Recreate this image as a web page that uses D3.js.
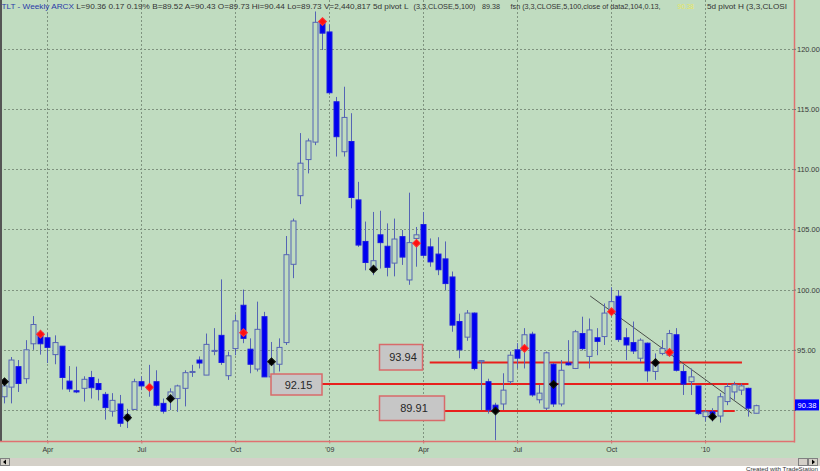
<!DOCTYPE html>
<html><head><meta charset="utf-8">
<script src="https://cdn.jsdelivr.net/npm/d3@7"></script>
<style>html,body{margin:0;padding:0;background:#fff;}svg{display:block;font-family:"Liberation Sans",Arial,sans-serif;}</style>
</head><body><svg id="c" width="820" height="471"></svg>
<script>
// ---------- DATA (TLT weekly, Feb 2008 - Feb 2010) ----------
const firstWeek = new Date(2008, 1, 22);   // first weekly bar (Friday)
const opens  = [91.1,91.9,93.6,92.6,95.5,96.4,96.0,94.6,95.3,92.4,91.6,91.8,92.7,92.2,91.3,89.9,90.5,89.2,90.05,92.35,
  91.75,92.35,90.55,91.0,90.95,91.8,93.15,94.15,92.9,94.9,96.2,92.85,95.1,98.7,95.05,93.4,97.75,92.75,93.8,95.6,
  102.1,107.8,110.8,112.25,122.25,121.4,115.6,111.45,112.3,107.45,104.0,101.85,104.55,103.6,102.2,104.4,100.8,104.25,105.4,103.55,
  102.95,102.55,101.05,97.35,96.05,98.05,94.0,92.35,90.4,90.5,92.35,95.0,95.0,96.3,90.85,90.15,93.8,90.5,93.9,93.45,
  96.35,94.45,96.0,96.1,98.3,99.45,96.0,95.6,94.3,95.55,93.2,94.7,94.55,96.25,93.2,92.35,92.0,89.45,89.85,89.5,
  90.7,91.5,91.65,91.8,89.73];
const highs  = [92.6,94.4,94.15,95.8,97.8,96.6,96.4,96.2,95.3,93.65,93.6,92.8,93.25,92.6,91.5,91.4,91.25,90.1,92.6,92.8,
  93.75,93.3,90.95,91.8,92.1,93.3,93.75,94.45,96.35,96.8,100.85,94.85,97.95,100.0,95.95,99.0,98.15,95.65,95.95,104.45,
  105.9,113.0,112.55,123.1,122.4,122.0,116.0,116.85,114.65,108.95,105.65,106.45,106.55,105.5,105.9,104.95,108.05,105.2,106.45,104.25,
  104.35,104.0,101.5,98.0,98.3,98.1,94.15,92.6,90.6,93.05,94.85,95.55,96.8,96.5,92.1,94.85,93.9,94.15,95.8,96.65,
  97.75,97.6,96.8,98.85,100.2,99.95,96.8,97.35,95.95,95.6,94.7,95.8,96.65,96.8,93.75,93.45,92.0,90.0,90.15,91.4,
  92.2,92.35,92.2,91.85,90.44];
const lows   = [90.55,90.55,91.5,92.2,95.0,94.6,93.9,93.8,91.7,91.5,91.4,90.7,90.95,90.8,89.2,89.45,88.6,88.5,90.0,91.65,
  91.1,90.3,89.7,90.0,89.85,90.3,92.75,93.45,92.9,94.55,93.75,92.5,94.55,95.55,93.05,93.2,92.75,92.3,93.2,95.4,
  100.95,107.1,109.65,112.0,119.9,116.2,111.05,111.05,106.75,103.55,101.6,101.2,101.75,101.1,101.1,102.05,100.4,101.9,102.6,101.9,
  101.2,99.95,96.5,94.3,95.75,93.3,90.0,89.7,87.5,90.0,92.15,93.45,93.45,91.1,90.55,90.0,90.25,90.3,93.7,93.4,
  94.95,93.45,94.55,95.4,97.75,95.65,94.15,94.65,94.0,92.35,92.5,94.55,94.45,93.2,91.25,91.25,89.6,89.05,89.05,88.95,
  90.4,90.85,91.25,89.45,89.73];
const closes = [92.0,94.15,92.2,95.0,97.1,95.5,95.2,95.6,92.7,91.75,91.5,92.55,91.85,91.7,90.2,90.8,88.9,89.6,92.35,92.0,
  91.95,90.4,89.9,91.5,92.0,93.1,93.2,93.9,95.45,94.95,93.95,94.5,97.4,95.95,93.8,96.7,92.75,93.8,95.2,102.9,
  105.7,110.5,112.35,122.2,121.3,116.35,112.7,114.3,107.65,103.7,102.25,102.4,103.9,101.85,104.2,102.7,103.9,104.55,102.85,102.3,
  101.65,100.5,97.05,95.0,98.05,93.45,94.1,90.0,90.05,91.65,94.55,94.3,96.25,91.25,91.4,94.75,90.5,93.3,93.75,96.5,
  95.1,96.65,95.7,98.05,99.0,95.85,95.4,94.9,95.8,93.25,93.75,95.1,96.35,93.3,92.15,92.75,89.7,89.85,89.65,91.1,
  91.95,92.1,92.0,90.15,90.36];
// pivot markers: bar index and price
const pivotHighBars   = [5, 20, 33, 44, 57, 72, 84, 92];
const pivotHighPrices = [96.3, 91.88, 96.42, 122.26, 103.85, 95.12, 98.17, 94.79];
const pivotLowBars    = [0, 17, 23, 37, 51, 68, 76, 90, 98];
const pivotLowPrices  = [92.35, 89.36, 90.94, 94.01, 101.7, 89.92, 92.13, 93.93, 89.44];
// support / resistance levels
const levelValues = [93.94, 92.15, 89.91];
const levelFrom   = [58.9, 44.0, 61.0];
const levelTo     = [102.1, 103.0, 101.1];
// trendline (bar index, price)
const trendBars   = [81.1, 103.45];
const trendPrices = [99.47, 89.73];
// axes
const yTicks = [90, 95, 100, 105, 110, 115, 120];
const yTickLabels = ["", "95.00", "100.00", "105.00", "110.00", "115.00", "120.00"];
const xTickLabels = ["Apr", "Jul", "Oct", "'09", "Apr", "Jul", "Oct", "'10"];
const lastPriceLabel = "90.38";
const lastPrice = 90.38;

// ---------- DRAW ----------
const W = 820, H = 471;
const BG = '#c0dcc0', PR = 794, PB = 441.5;
const svg = d3.select('#c');
const n = opens.length;
const dates = d3.range(n).map(i => d3.timeDay.offset(firstWeek, 7 * i));

svg.append('rect').attr('width', W).attr('height', 458).attr('fill', BG);

const x = d3.scaleLinear().domain([0, n - 1]).range([4, 755.7]);
const y = d3.scaleLinear().domain([90, 120]).range([410, 48.8]);

// first bar of each quarter month
const tickIdx = d3.range(1, n).filter(i => dates[i].getMonth() !== dates[i - 1].getMonth() && dates[i].getMonth() % 3 === 0);

svg.append('defs').append('clipPath').attr('id', 'clip')
  .append('rect').attr('x', 0).attr('y', 0).attr('width', PR).attr('height', PB);

const plot = svg.append('g').attr('clip-path', 'url(#clip)');

// grid
plot.append('g').selectAll('line').data(yTicks).join('line')
  .attr('x1', 0).attr('x2', PR).attr('y1', d => Math.round(y(d)) + 0.5).attr('y2', d => Math.round(y(d)) + 0.5)
  .attr('stroke', '#7f937f').attr('stroke-dasharray', '2,2').attr('stroke-width', 1);
plot.append('g').selectAll('line').data(tickIdx).join('line')
  .attr('y1', 0).attr('y2', PB).attr('x1', d => Math.round(x(d)) + 0.5).attr('x2', d => Math.round(x(d)) + 0.5)
  .attr('stroke', '#7f937f').attr('stroke-dasharray', '2,2').attr('stroke-width', 1);

// level lines
plot.append('g').selectAll('line').data(levelValues).join('line')
  .attr('x1', (d, i) => x(levelFrom[i])).attr('x2', (d, i) => x(levelTo[i]))
  .attr('y1', d => y(d)).attr('y2', d => y(d))
  .attr('stroke', '#e8201c').attr('stroke-width', 2);

// trendline
plot.append('line')
  .attr('x1', x(trendBars[0])).attr('y1', y(trendPrices[0]))
  .attr('x2', x(trendBars[1])).attr('y2', y(trendPrices[1]))
  .attr('stroke', '#4a4f4a').attr('stroke-width', 1);

// candles
const OUT = '#5564b4';
const cg = plot.append('g');
const idx = d3.range(n);
cg.selectAll('line.w').data(idx).join('line').attr('class', 'w')
  .attr('x1', i => Math.round(x(i)) + 0.5).attr('x2', i => Math.round(x(i)) + 0.5)
  .attr('y1', i => y(highs[i])).attr('y2', i => y(lows[i]))
  .attr('stroke', OUT).attr('stroke-width', 1);
cg.selectAll('rect.b').data(idx).join('rect').attr('class', 'b')
  .attr('x', i => Math.round(x(i)) - 2)
  .attr('width', 5)
  .attr('y', i => y(Math.max(opens[i], closes[i])))
  .attr('height', i => Math.max(1, Math.abs(y(opens[i]) - y(closes[i]))))
  .attr('fill', i => closes[i] >= opens[i] ? BG : '#0000f0')
  .attr('stroke', i => closes[i] >= opens[i] ? OUT : '#1a1ae0')
  .attr('stroke-width', 1);

// pivot markers
const marker = d3.symbol().type(d3.symbolSquare).size(30);
plot.append('g').selectAll('path').data(pivotHighBars).join('path')
  .attr('d', marker).attr('transform', (d, i) => `translate(${Math.round(x(d)) + 0.5},${y(pivotHighPrices[i])}) rotate(45)`)
  .attr('fill', '#ff1010').attr('stroke', '#ff3030').attr('stroke-width', 1);
plot.append('g').selectAll('path').data(pivotLowBars).join('path')
  .attr('d', marker).attr('transform', (d, i) => `translate(${Math.round(x(d)) + 0.5},${y(pivotLowPrices[i])}) rotate(45)`)
  .attr('fill', '#000').attr('stroke', '#111').attr('stroke-width', 1);

// level labels
const boxes = [
  {v: levelValues[0], x0: 379.5, x1: 422.5, y0: 344.5, y1: 370},
  {v: levelValues[1], x0: 271, x1: 322, y0: 374, y1: 395},
  {v: levelValues[2], x0: 379.5, x1: 444.5, y0: 396, y1: 420.5}
];
const bg = svg.append('g');
bg.selectAll('rect').data(boxes).join('rect')
  .attr('x', d => d.x0).attr('y', d => d.y0).attr('width', d => d.x1 - d.x0).attr('height', d => d.y1 - d.y0)
  .attr('fill', '#c6c6c6').attr('stroke', '#d86a6a').attr('stroke-width', 1.5);
bg.selectAll('text').data(boxes).join('text')
  .attr('x', d => (d.x0 + d.x1) / 2 + 2).attr('y', d => (d.y0 + d.y1) / 2 + 4)
  .attr('text-anchor', 'middle').attr('font-size', 11).attr('fill', '#262626')
  .text(d => d3.format('.2f')(d.v));

// frame lines
svg.append('line').attr('x1', 1).attr('x2', 1).attr('y1', 0).attr('y2', PB).attr('stroke', '#555').attr('stroke-width', 2);
svg.append('line').attr('x1', PR + 0.5).attr('x2', PR + 0.5).attr('y1', 0).attr('y2', PB + 1).attr('stroke', '#e07070').attr('stroke-width', 1.5);
svg.append('line').attr('x1', 0).attr('x2', PR + 1).attr('y1', PB).attr('y2', PB).attr('stroke', '#e07070').attr('stroke-width', 1.5);

// right axis
const ya = svg.append('g').attr('transform', `translate(${PR},0)`)
  .call(d3.axisRight(y).tickValues(yTicks).tickFormat((d, i) => yTickLabels[i]).tickSize(2).tickPadding(1));
ya.select('.domain').remove();
ya.selectAll('line').attr('stroke', '#777');
ya.selectAll('text').attr('font-size', 7.5).attr('fill', '#3a3a3a').attr('font-family', '"Liberation Sans",Arial,sans-serif');

// last price box
svg.append('rect').attr('x', 795).attr('y', y(lastPrice) - 6).attr('width', 24).attr('height', 11).attr('fill', '#0000ff');
svg.append('text').attr('x', 807).attr('y', y(lastPrice) + 2.5).attr('text-anchor', 'middle')
  .attr('font-size', 7.5).attr('fill', '#fff').text(lastPriceLabel);

// bottom axis
const xa = svg.append('g').attr('transform', `translate(0,${PB})`)
  .call(d3.axisBottom(x).tickValues(tickIdx).tickFormat((d, i) => xTickLabels[i]).tickSize(2).tickPadding(4));
xa.select('.domain').remove();
xa.selectAll('line').attr('stroke', '#d07070');
xa.selectAll('text').attr('font-size', 7).attr('fill', '#333').attr('font-family', '"Liberation Sans",Arial,sans-serif');

// scrollbar
svg.append('rect').attr('x', 0).attr('y', 458).attr('width', W).attr('height', 8).attr('fill', '#d4d0c8');
svg.append('rect').attr('x', 0.5).attr('y', 458.5).attr('width', 9).attr('height', 7).attr('fill', '#d4d0c8').attr('stroke', '#808080');
svg.append('path').attr('d', 'M3,462 L6,459.5 L6,464.5 Z').attr('fill', '#000');
svg.append('rect').attr('x', 808.5).attr('y', 458.5).attr('width', 9).attr('height', 7).attr('fill', '#d4d0c8').attr('stroke', '#808080');
svg.append('path').attr('d', 'M815,462 L812,459.5 L812,464.5 Z').attr('fill', '#000');
svg.append('rect').attr('x', 798.5).attr('y', 458.5).attr('width', 9).attr('height', 7).attr('fill', '#d4d0c8').attr('stroke', '#808080');
svg.append('rect').attr('x', 0).attr('y', 466).attr('width', W).attr('height', 5).attr('fill', '#fff');
svg.append('text').attr('x', 818).attr('y', 471).attr('text-anchor', 'end').attr('font-size', 6)
  .attr('textLength', 72).attr('lengthAdjust', 'spacingAndGlyphs')
  .attr('fill', '#333').text('Created with TradeStation');

// header
const hdr = svg.append('g').attr('font-size', 7.4);
const h1 = hdr.append('text').attr('x', 1.5).attr('y', 9).attr('textLength', 407).attr('lengthAdjust', 'spacingAndGlyphs').attr('fill', '#333');
h1.append('tspan').attr('fill', '#2a3aa8').text('TLT - Weekly ARCX');
h1.append('tspan').text(' L=90.36 0.17 0.19% B=89.52 A=90.43 O=89.73 Hi=90.44 Lo=89.73 V=2,440,817 5d pivot L');
const hdr2 = [
  ['(3,3,CLOSE,5,100)', 413.5, 62, '#333'], ['89.38', 482, 18, '#333'],
  ['fsn (3,3,CLOSE,5,100,close of data2,104,0.13,', 510.5, 150, '#333'], ['90.38', 677.5, 16.5, '#e8e860'],
  ['5d pivot H (3,3,CLOSI', 707, 80, '#333']
];
hdr.selectAll('text.h2').data(hdr2).join('text').attr('class', 'h2')
  .attr('x', d => d[1]).attr('y', 9).attr('fill', d => d[3])
  .attr('textLength', d => d[2]).attr('lengthAdjust', 'spacingAndGlyphs').text(d => d[0]);
</script></body></html>
